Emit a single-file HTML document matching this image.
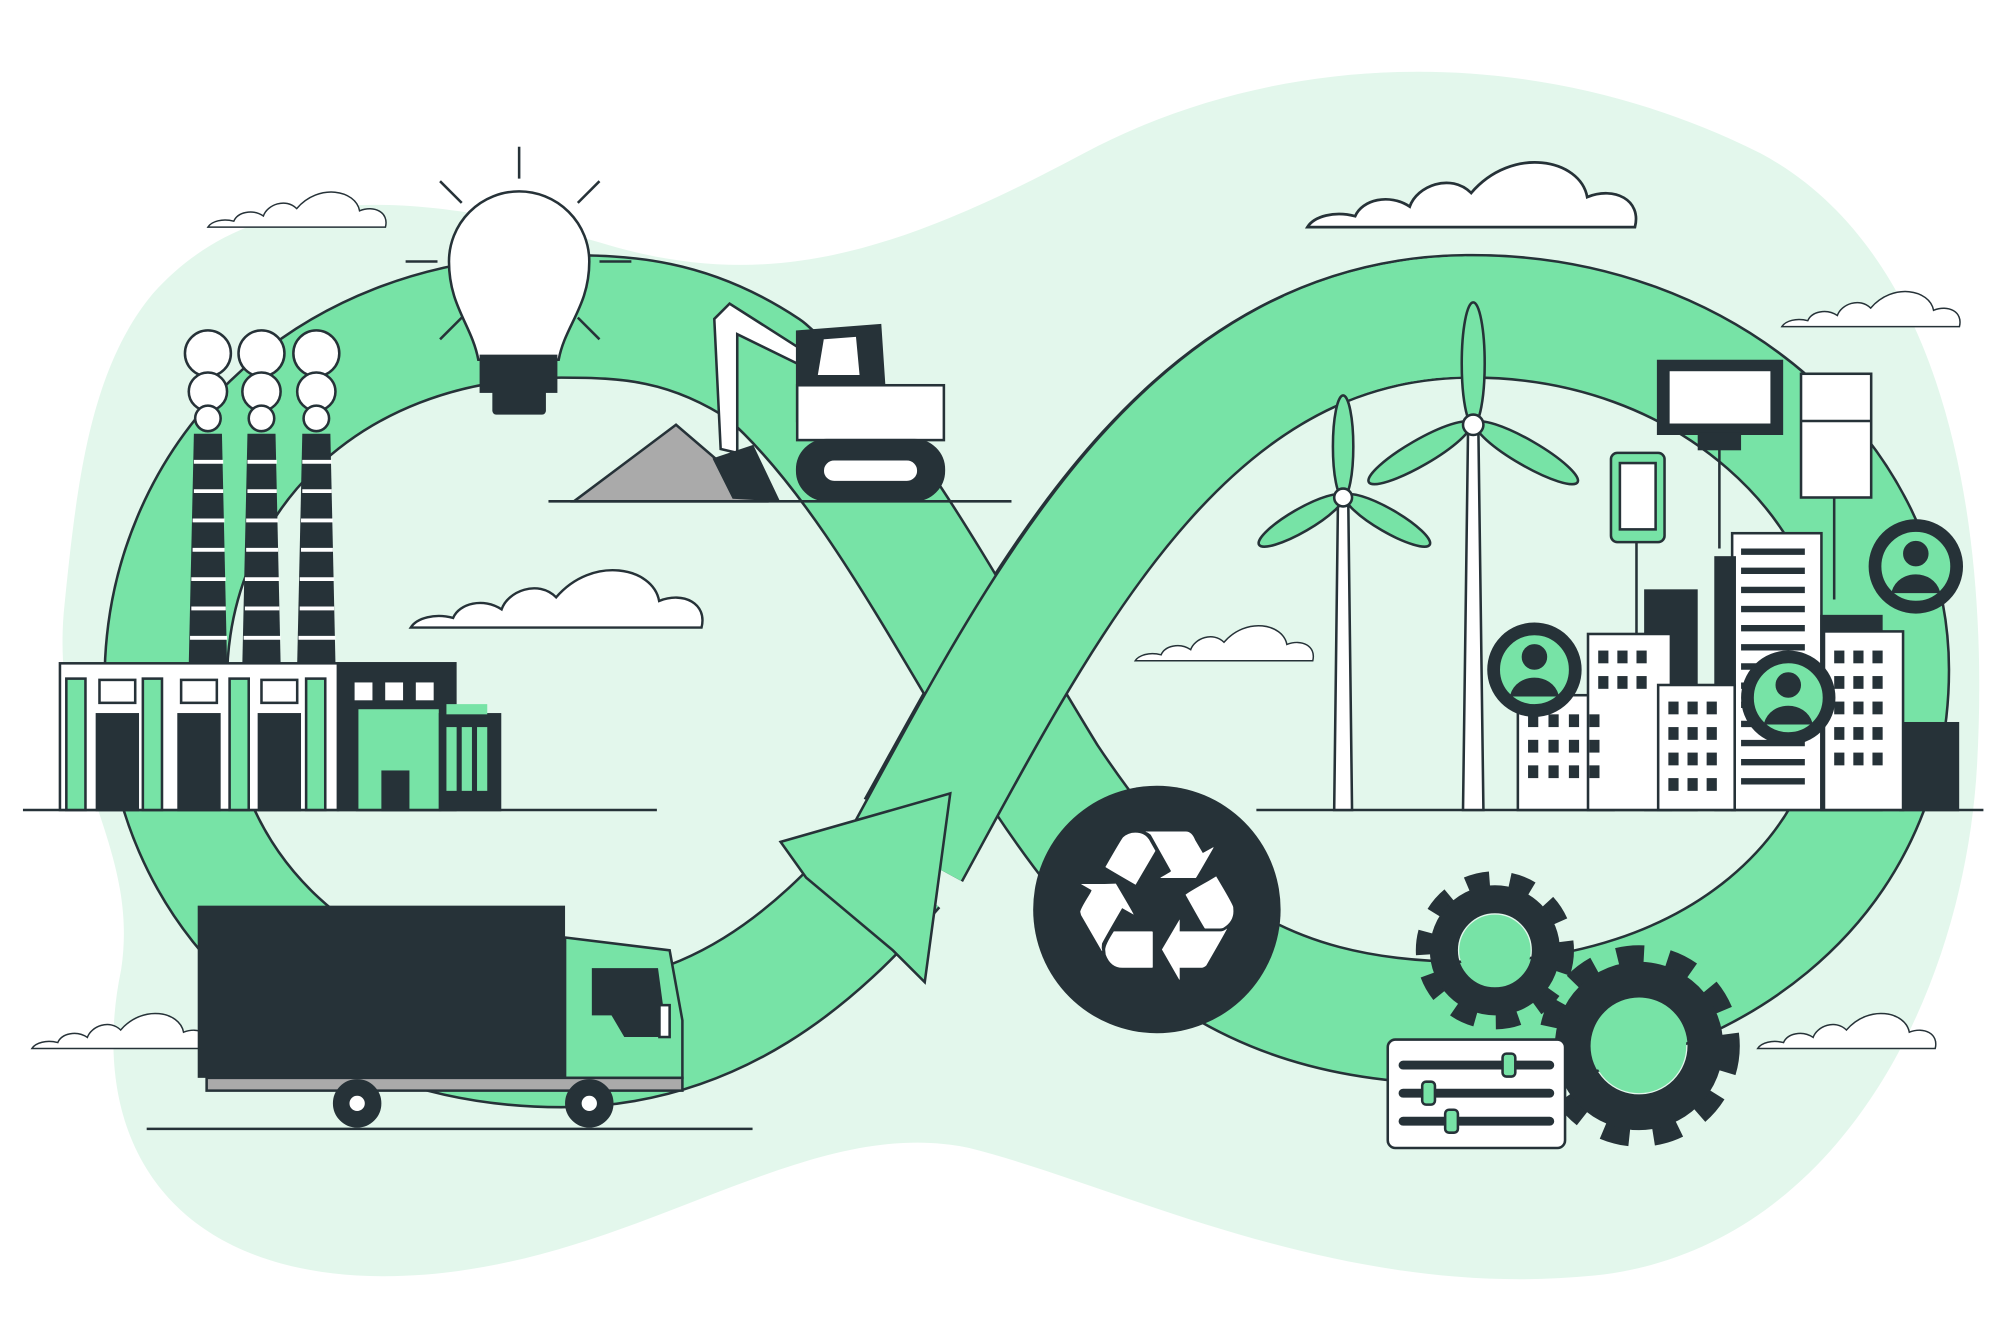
<!DOCTYPE html>
<html><head><meta charset="utf-8"><style>html,body{margin:0;padding:0;background:#fff}svg{display:block}</style></head>
<body>
<svg width="2000" height="1333" viewBox="0 0 1568 1045" xmlns="http://www.w3.org/2000/svg">
<defs>
<g id="cloud"><path d="M0 0 L240 0 C245 -20 225 -30 205 -22 C200 -50 150 -60 120 -25 C105 -40 80 -30 75 -15 C60 -25 40 -20 35 -8 C20 -12 5 -8 0 0 Z" fill="#fff" stroke="#263238" stroke-width="2"/></g>
<path id="band" d="M720 650 C820 470 930 250 1150 248 C1340 246 1480 380 1480 525 C1480 690 1340 802 1150 802 C980 802 900 730 820 610 C740 480 680 360 600 290 C540 250 490 248 440 248 C250 248 130 380 130 534 C130 700 260 820 440 820 C560 820 640 750 700 680"/>
</defs>
<!-- background blob -->
<path d="M120 230 C200 140 330 150 470 190 C600 230 700 200 850 120 C1000 40 1200 30 1380 120 C1530 200 1560 420 1550 600 C1540 780 1440 980 1250 1000 C1050 1020 880 930 760 900 C620 870 480 1010 280 1000 C120 990 70 880 95 760 C110 660 40 600 50 480 C60 380 70 290 120 230 Z" fill="#e3f7ec"/>
<!-- infinity band -->
<use href="#band" fill="none" stroke="#263238" stroke-width="98" stroke-linejoin="round"/>
<use href="#band" fill="none" stroke="#77e3a6" stroke-width="94" stroke-linejoin="round"/>
<path d="M712 668 C820 470 930 250 1150 248" pathLength="100" fill="none" stroke="#263238" stroke-width="98" stroke-dasharray="80 200"/>
<path d="M712 668 C820 470 930 250 1150 248" fill="none" stroke="#77e3a6" stroke-width="94"/>
<path d="M612 660 L745 622 L725 770 L700 745 L632 688 Z" fill="#77e3a6" stroke="#263238" stroke-width="2"/>
<!-- ground lines -->
<g stroke="#263238" stroke-width="2">
<line x1="18" y1="635" x2="515" y2="635"/><line x1="985" y1="635" x2="1555" y2="635"/>
<line x1="115" y1="885" x2="590" y2="885"/><line x1="430" y1="393" x2="793" y2="393"/>
</g>
<!-- clouds -->
<use href="#cloud" transform="translate(163,178) scale(0.58)"/>
<use href="#cloud" transform="translate(322,492) scale(0.95)"/>
<use href="#cloud" transform="translate(1025,178) scale(1.07)"/>
<use href="#cloud" transform="translate(1397,256) scale(0.58)"/>
<use href="#cloud" transform="translate(890,518) scale(0.58)"/>
<use href="#cloud" transform="translate(25,822) scale(0.58)"/>
<use href="#cloud" transform="translate(1378,822) scale(0.58)"/>
<!-- bulb -->
<g stroke="#263238" stroke-width="2">
<line x1="407" y1="115" x2="407" y2="140"/><line x1="345" y1="142" x2="362" y2="159"/><line x1="470" y1="142" x2="453" y2="159"/>
<line x1="318" y1="205" x2="343" y2="205"/><line x1="470" y1="205" x2="495" y2="205"/>
<line x1="345" y1="266" x2="362" y2="249"/><line x1="470" y1="266" x2="453" y2="249"/>
<path d="M375 282 C370 255 352 240 352 205 A55 55 0 1 1 462 205 C462 240 443 255 438 282 Z" fill="#fff"/>
</g>
<rect x="376" y="278" width="61" height="30" fill="#263238"/><rect x="386" y="305" width="42" height="20" rx="3" fill="#263238"/>
<!-- excavator -->
<path d="M450 393 L530 333 L600 393 Z" fill="#aaa" stroke="#263238" stroke-width="2"/>
<g stroke="#263238" stroke-width="2">
<path d="M560 250 L572 238 L630 275 L625 285 L578 262 L578 355 L565 352 Z" fill="#fff"/>
<path d="M560 360 L590 350 L610 392 L575 390 Z" fill="#263238"/>
<path d="M625 260 L690 255 L695 330 L625 330 Z" fill="#263238"/>
<path d="M645 265 L672 263 L675 295 L640 295 Z" fill="#fff"/>
<rect x="625" y="302" width="115" height="43" fill="#fff"/>
<rect x="625" y="345" width="115" height="47" rx="23" fill="#263238"/>
<rect x="645" y="360" width="75" height="18" rx="9" fill="#fff"/>
</g>
<!-- factory -->
<g stroke="#263238" stroke-width="2" fill="#fff">
<circle cx="163" cy="277" r="18"/><circle cx="163" cy="307" r="15"/><circle cx="163" cy="328" r="10"/>
<circle cx="205" cy="277" r="18"/><circle cx="205" cy="307" r="15"/><circle cx="205" cy="328" r="10"/>
<circle cx="248" cy="277" r="18"/><circle cx="248" cy="307" r="15"/><circle cx="248" cy="328" r="10"/>
</g>
<g fill="#263238">
<path d="M152 340 L174 340 L178 520 L148 520 Z"/><path d="M194 340 L216 340 L220 520 L190 520 Z"/><path d="M237 340 L259 340 L263 520 L233 520 Z"/>
</g>
<g stroke="#fff" stroke-width="3">
<path d="M152 362 H175 M152 385 H175 M151 408 H176 M151 431 H176 M150 454 H177 M150 477 H177 M149 500 H178"/>
<path d="M194 362 H217 M194 385 H217 M193 408 H218 M193 431 H218 M192 454 H219 M192 477 H219 M191 500 H220"/>
<path d="M237 362 H260 M237 385 H260 M236 408 H261 M236 431 H261 M235 454 H262 M235 477 H262 M234 500 H263"/>
</g>
<g stroke="#263238" stroke-width="2">
<rect x="47" y="520" width="218" height="115" fill="#fff"/>
<rect x="52" y="532" width="15" height="103" fill="#77e3a6"/><rect x="112" y="532" width="15" height="103" fill="#77e3a6"/><rect x="180" y="532" width="15" height="103" fill="#77e3a6"/><rect x="240" y="532" width="15" height="103" fill="#77e3a6"/>
<rect x="78" y="533" width="28" height="18" fill="#fff"/><rect x="142" y="533" width="28" height="18" fill="#fff"/><rect x="205" y="533" width="28" height="18" fill="#fff"/>
<rect x="76" y="560" width="32" height="75" fill="#263238"/><rect x="140" y="560" width="32" height="75" fill="#263238"/><rect x="203" y="560" width="32" height="75" fill="#263238"/>
<rect x="265" y="520" width="92" height="115" fill="#263238"/>
<rect x="280" y="555" width="65" height="80" fill="#77e3a6"/><rect x="300" y="605" width="20" height="30" fill="#263238"/>
<rect x="345" y="560" width="47" height="75" fill="#263238"/>
</g>
<g fill="#fff"><rect x="278" y="535" width="14" height="14"/><rect x="302" y="535" width="14" height="14"/><rect x="326" y="535" width="14" height="14"/></g>
<g fill="#77e3a6"><rect x="350" y="570" width="8" height="50"/><rect x="362" y="570" width="8" height="50"/><rect x="374" y="570" width="8" height="50"/><rect x="350" y="552" width="32" height="8"/></g>
<!-- truck -->
<rect x="155" y="710" width="288" height="135" fill="#263238"/>
<g stroke="#263238" stroke-width="2">
<path d="M443 735 L525 745 L535 800 L535 845 L443 845 Z" fill="#77e3a6"/>
<path d="M465 760 L515 760 L522 812 L490 812 L480 795 L465 795 Z" fill="#263238"/>
<rect x="517" y="788" width="8" height="25" fill="#fff"/>
<path d="M162 845 L535 845 L535 855 L162 855 Z" fill="#aaa"/>
<circle cx="280" cy="865" r="18" fill="#263238"/><circle cx="280" cy="865" r="7" fill="#fff"/>
<circle cx="462" cy="865" r="18" fill="#263238"/><circle cx="462" cy="865" r="7" fill="#fff"/>
</g>
<!-- recycle -->
<circle cx="907" cy="713" r="97" fill="#263238"/>
<text x="907" y="768" font-family="DejaVu Sans, sans-serif" font-size="165" fill="#fff" text-anchor="middle">♻</text>
<!-- windmills -->
<g stroke="#263238" stroke-width="2">
<path d="M1049 390 L1057 390 L1060 635 L1046 635 Z" fill="#fff"/>
<ellipse cx="1053" cy="350" rx="8" ry="40" fill="#77e3a6"/>
<ellipse cx="1020" cy="408" rx="38" ry="9" transform="rotate(-30 1020 408)" fill="#77e3a6"/>
<ellipse cx="1088" cy="408" rx="38" ry="9" transform="rotate(30 1088 408)" fill="#77e3a6"/>
<circle cx="1053" cy="390" r="7" fill="#fff"/>
<path d="M1151 333 L1159 333 L1163 635 L1147 635 Z" fill="#fff"/>
<ellipse cx="1155" cy="285" rx="9" ry="48" fill="#77e3a6"/>
<ellipse cx="1113" cy="355" rx="46" ry="10" transform="rotate(-30 1113 355)" fill="#77e3a6"/>
<ellipse cx="1197" cy="355" rx="46" ry="10" transform="rotate(30 1197 355)" fill="#77e3a6"/>
<circle cx="1155" cy="333" r="8" fill="#fff"/>
</g>
<!-- devices -->
<g stroke="#263238" stroke-width="2">
<line x1="1283" y1="425" x2="1283" y2="500"/><line x1="1348" y1="340" x2="1348" y2="430"/><line x1="1438" y1="390" x2="1438" y2="470"/>
<rect x="1300" y="283" width="97" height="57" fill="#263238"/><rect x="1308" y="290" width="81" height="43" fill="#fff"/>
<rect x="1332" y="340" width="32" height="12" fill="#263238"/>
<rect x="1412" y="293" width="55" height="97" fill="#fff"/><line x1="1412" y1="330" x2="1467" y2="330"/>
<rect x="1263" y="355" width="42" height="70" rx="5" fill="#77e3a6"/><rect x="1270" y="363" width="28" height="52" fill="#fff"/>
</g>
<!-- buildings -->
<g stroke="#263238" stroke-width="2">
<rect x="1290" y="463" width="40" height="172" fill="#263238"/>
<rect x="1358" y="418" width="70" height="217" fill="#fff"/>
<rect x="1345" y="437" width="15" height="198" fill="#263238"/>
<rect x="1490" y="567" width="45" height="68" fill="#263238"/>
<rect x="1428" y="483" width="47" height="152" fill="#263238"/>
<rect x="1190" y="545" width="75" height="90" fill="#fff"/>
<rect x="1245" y="497" width="65" height="138" fill="#fff"/>
<rect x="1300" y="537" width="60" height="98" fill="#fff"/>
<rect x="1430" y="495" width="62" height="140" fill="#fff"/>
</g>
<g fill="#263238">
<path d="M1365 430h50v5h-50zM1365 445h50v5h-50zM1365 460h50v5h-50zM1365 475h50v5h-50zM1365 490h50v5h-50zM1365 505h50v5h-50zM1365 520h50v5h-50zM1365 535h50v5h-50zM1365 550h50v5h-50zM1365 565h50v5h-50zM1365 580h50v5h-50zM1365 595h50v5h-50zM1365 610h50v5h-50z"/>
</g>
<g fill="#263238">
<rect x="1198" y="560" width="8" height="10"/><rect x="1214" y="560" width="8" height="10"/><rect x="1230" y="560" width="8" height="10"/><rect x="1246" y="560" width="8" height="10"/>
<rect x="1198" y="580" width="8" height="10"/><rect x="1214" y="580" width="8" height="10"/><rect x="1230" y="580" width="8" height="10"/><rect x="1246" y="580" width="8" height="10"/>
<rect x="1198" y="600" width="8" height="10"/><rect x="1214" y="600" width="8" height="10"/><rect x="1230" y="600" width="8" height="10"/><rect x="1246" y="600" width="8" height="10"/>
<rect x="1253" y="510" width="8" height="10"/><rect x="1268" y="510" width="8" height="10"/><rect x="1283" y="510" width="8" height="10"/>
<rect x="1253" y="530" width="8" height="10"/><rect x="1268" y="530" width="8" height="10"/><rect x="1283" y="530" width="8" height="10"/>
<rect x="1308" y="550" width="8" height="10"/><rect x="1323" y="550" width="8" height="10"/><rect x="1338" y="550" width="8" height="10"/>
<rect x="1308" y="570" width="8" height="10"/><rect x="1323" y="570" width="8" height="10"/><rect x="1338" y="570" width="8" height="10"/>
<rect x="1308" y="590" width="8" height="10"/><rect x="1323" y="590" width="8" height="10"/><rect x="1338" y="590" width="8" height="10"/>
<rect x="1308" y="610" width="8" height="10"/><rect x="1323" y="610" width="8" height="10"/><rect x="1338" y="610" width="8" height="10"/>
<rect x="1438" y="510" width="8" height="10"/><rect x="1453" y="510" width="8" height="10"/><rect x="1468" y="510" width="8" height="10"/>
<rect x="1438" y="530" width="8" height="10"/><rect x="1453" y="530" width="8" height="10"/><rect x="1468" y="530" width="8" height="10"/>
<rect x="1438" y="550" width="8" height="10"/><rect x="1453" y="550" width="8" height="10"/><rect x="1468" y="550" width="8" height="10"/>
<rect x="1438" y="570" width="8" height="10"/><rect x="1453" y="570" width="8" height="10"/><rect x="1468" y="570" width="8" height="10"/>
<rect x="1438" y="590" width="8" height="10"/><rect x="1453" y="590" width="8" height="10"/><rect x="1468" y="590" width="8" height="10"/>
</g>
<!-- avatars -->
<g stroke="#263238" stroke-width="2">
<circle cx="1203" cy="525" r="36" fill="#263238"/><circle cx="1203" cy="525" r="28" fill="#77e3a6"/>
<circle cx="1203" cy="515" r="9" fill="#263238"/><path d="M1185 545 C1190 528 1216 528 1221 545 Z" fill="#263238"/>
<circle cx="1502" cy="444" r="36" fill="#263238"/><circle cx="1502" cy="444" r="28" fill="#77e3a6"/>
<circle cx="1502" cy="434" r="9" fill="#263238"/><path d="M1484 464 C1489 447 1515 447 1520 464 Z" fill="#263238"/>
<circle cx="1402" cy="547" r="36" fill="#263238"/><circle cx="1402" cy="547" r="28" fill="#77e3a6"/>
<circle cx="1402" cy="537" r="9" fill="#263238"/><path d="M1384 567 C1389 550 1415 550 1420 567 Z" fill="#263238"/>
</g>
<!-- gears -->
<g fill="none" stroke="#263238">
<circle cx="1172" cy="745" r="52" stroke-width="20" stroke-dasharray="17 15"/>
<circle cx="1172" cy="745" r="40" stroke-width="22"/>
<circle cx="1285" cy="820" r="68" stroke-width="22" stroke-dasharray="20 18"/>
<circle cx="1285" cy="820" r="52" stroke-width="28"/>
</g>
<circle cx="1172" cy="745" r="28" fill="#77e3a6"/><circle cx="1285" cy="820" r="37" fill="#77e3a6"/>
<!-- slider panel -->
<g stroke="#263238" stroke-width="2">
<rect x="1088" y="815" width="139" height="85" rx="6" fill="#fff"/>
<line x1="1100" y1="835" x2="1215" y2="835" stroke-width="7" stroke-linecap="round"/>
<line x1="1100" y1="857" x2="1215" y2="857" stroke-width="7" stroke-linecap="round"/>
<line x1="1100" y1="879" x2="1215" y2="879" stroke-width="7" stroke-linecap="round"/>
<rect x="1178" y="826" width="10" height="18" rx="3" fill="#77e3a6"/>
<rect x="1115" y="848" width="10" height="18" rx="3" fill="#77e3a6"/>
<rect x="1133" y="870" width="10" height="18" rx="3" fill="#77e3a6"/>
</g>
</svg>
</body></html>
